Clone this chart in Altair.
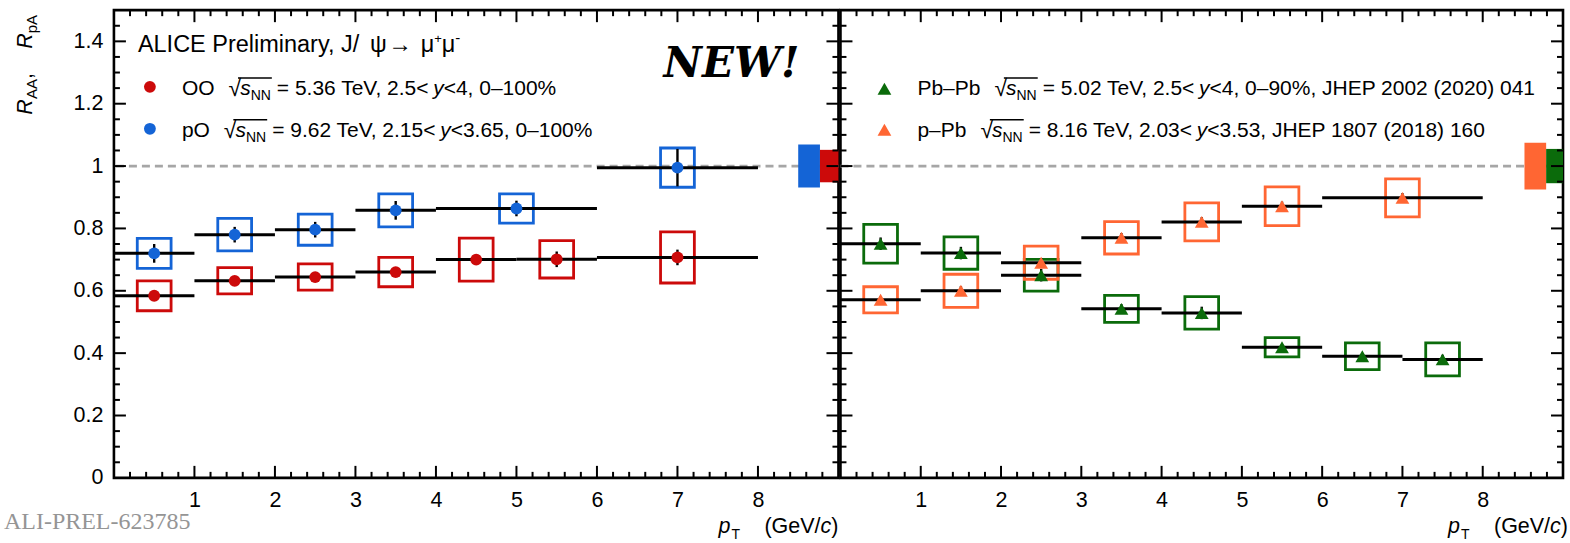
import altair as alt
import pandas as pd

# ---------------- data ----------------
# O-O, sqrt(sNN)=5.36 TeV
OO_x    = [0.5, 1.5, 2.5, 3.5, 4.5, 5.5, 7.0]
OO_lo   = [0, 1, 2, 3, 4, 5, 6]
OO_hi   = [1, 2, 3, 4, 5, 6, 8]
OO_y    = [0.584, 0.632, 0.644, 0.660, 0.700, 0.701, 0.707]
OO_stat = [0.015, 0.012, 0.012, 0.015, 0.012, 0.025, 0.025]
OO_syst = [0.048, 0.042, 0.042, 0.047, 0.069, 0.060, 0.082]

# p-O, sqrt(sNN)=9.62 TeV
pO_x    = [0.5, 1.5, 2.5, 3.5, 5.0, 7.0]
pO_lo   = [0, 1, 2, 3, 4, 6]
pO_hi   = [1, 2, 3, 4, 6, 8]
pO_y    = [0.720, 0.780, 0.796, 0.858, 0.864, 0.995]
pO_stat = [0.030, 0.025, 0.025, 0.030, 0.025, 0.060]
pO_syst = [0.048, 0.052, 0.050, 0.053, 0.047, 0.063]

# Pb-Pb, sqrt(sNN)=5.02 TeV
PbPb_x    = [0.5, 1.5, 2.5, 3.5, 4.5, 5.5, 6.5, 7.5]
PbPb_lo   = [0, 1, 2, 3, 4, 5, 6, 7]
PbPb_hi   = [1, 2, 3, 4, 5, 6, 7, 8]
PbPb_y    = [0.751, 0.721, 0.650, 0.542, 0.529, 0.419, 0.390, 0.380]
PbPb_stat = [0.020, 0.020, 0.020, 0.015, 0.020, 0.010, 0.010, 0.015]
PbPb_syst = [0.062, 0.052, 0.051, 0.043, 0.052, 0.031, 0.043, 0.053]

# p-Pb, sqrt(sNN)=8.16 TeV
pPb_x    = [0.5, 1.5, 2.5, 3.5, 4.5, 5.5, 7.0]
pPb_lo   = [0, 1, 2, 3, 4, 5, 6]
pPb_hi   = [1, 2, 3, 4, 5, 6, 8]
pPb_y    = [0.571, 0.600, 0.690, 0.770, 0.821, 0.871, 0.898]
pPb_stat = [0.012, 0.015, 0.015, 0.015, 0.015, 0.015, 0.015]
pPb_syst = [0.042, 0.053, 0.053, 0.052, 0.061, 0.062, 0.061]

# global (correlated) uncertainties drawn at R=1: [x_from, x_to, half-height]
glob_pO   = [8.50, 8.77, 0.069]
glob_OO   = [8.77, 9.00, 0.052]
glob_pPb  = [8.52, 8.79, 0.075]
glob_PbPb = [8.79, 9.00, 0.055]

x_tick_labels = [1, 2, 3, 4, 5, 6, 7, 8]
y_tick_labels = [0, 0.2, 0.4, 0.6, 0.8, 1.0, 1.2, 1.4]

# ---------------- styling ----------------
FONT = "Liberation Sans, Arial, DejaVu Sans"
C_RED, C_BLUE = "#cc0a0a", "#1464d6"
C_GREEN, C_ORANGE = "#0b6b0b", "#ff6633"
H = 468
WL, WR = 725, 723
BOXW = 0.21
XD, YD = [0, 9], [0, 1.5]
LFS = 21  # legend font size

AW = {' ': 278, '!': 278, '%': 889, '(': 333, ')': 333, ',': 278, '-': 333, '.': 278,
      '/': 278, '<': 584, '=': 584, '>': 584, '–': 556, '+': 584,
      'A': 667, 'C': 722, 'E': 667, 'G': 778, 'H': 722, 'I': 278, 'J': 500, 'L': 556,
      'N': 722, 'O': 778, 'P': 667, 'T': 611, 'V': 667,
      'a': 556, 'b': 556, 'c': 500, 'e': 556, 'i': 222, 'l': 222, 'm': 833, 'n': 556,
      'p': 556, 'r': 333, 's': 500, 'y': 500, 'ψ': 686, 'μ': 576, '→': 1000, '√': 549}


def tw(s, size):
    return sum(AW.get(c, 556) for c in s) * size / 1000.0


def px2x(px, W):
    return px / W * 9.0


def py2y(py):
    return 1.5 - py / H * 1.5


def series_df(x, lo, hi, y, stat, syst, col):
    return pd.DataFrame(dict(
        x=x, lo=lo, hi=hi, y=y,
        ylo=[a - b for a, b in zip(y, stat)], yhi=[a + b for a, b in zip(y, stat)],
        blo=[a - BOXW for a in x], bhi=[a + BOXW for a in x],
        slo=[a - b for a, b in zip(y, syst)], shi=[a + b for a, b in zip(y, syst)],
        col=[col] * len(x)))


def glob_df(items):
    return pd.DataFrame([dict(x=g[0], x2=g[1], y=1 - g[2], y2=1 + g[2], col=c) for g, c in items])


def ticks_df(W):
    rows = []
    Lx, Ly = 12, 12
    mx = [i * 0.2 for i in range(1, 45)]
    for v in mx:
        major = abs(v - round(v)) < 1e-6
        L = Lx if major else Lx / 2
        d = L / H * 1.5
        rows.append(dict(x=v, x2=v, y=0, y2=d))
        rows.append(dict(x=v, x2=v, y=1.5, y2=1.5 - d))
    for j in range(1, 30):
        v = j * 0.05
        major = j % 4 == 0
        L = Ly if major else Ly / 2
        d = L / W * 9
        rows.append(dict(x=0, x2=d, y=v, y2=v))
        rows.append(dict(x=9, x2=9 - d, y=v, y2=v))
    return pd.DataFrame(rows)


class TextBuilder:
    def __init__(self, W):
        self.W = W
        self.rows = []
        self.rules = []

    def add(self, px, py, text, size, style='n', angle=0, col='black'):
        self.rows.append(dict(x=px2x(px, self.W), y=py2y(py), text=text, size=size,
                              angle=angle, style=style, col=col))

    def line(self, x0, base, segs):
        x = x0
        for s in segs:
            if s[0] == 'gap':
                x += s[1]
                continue
            style, t, size = s[0], s[1], s[2]
            dy = s[3] if len(s) > 3 else 0
            self.add(x, base + dy, t, size, style)
            x += tw(t, size)
        return x

    def legend(self, x0, base, name, parts, fs=LFS):
        x = self.line(x0, base, [('n', name, fs), ('gap', 14)])
        self.add(x, base + 1, '√', fs + 2)
        xr = x + tw('√', fs + 2) * 0.75
        x = x + tw('√', fs + 2) - 1
        x = self.line(x, base, [('i', 's', fs), ('n', 'NN', 14, 5)])
        self.rules.append(dict(x=px2x(xr, self.W), x2=px2x(x + 1, self.W), y=py2y(base - 17)))
        self.line(x + 6, base, parts)

    def pt_title(self, right):
        fs = 21.5
        wr = tw('(GeV/', fs) + tw('c', fs) + tw(')', fs)
        x = right - wr
        base = 522.7
        self.add(x - 46, base, 'p', fs, 'i')
        self.add(x - 33, base + 6, 'T', 14)
        self.line(x, base, [('n', '(GeV/', fs), ('i', 'c', fs), ('n', ')', fs)])


def text_layers(tb):
    df = pd.DataFrame(tb.rows)
    xs = alt.Scale(domain=XD, nice=False, zero=False)
    ys = alt.Scale(domain=YD, nice=False, zero=False)
    out = []
    for style, kw in [('n', {}), ('i', {'fontStyle': 'italic'})]:
        sub = df[df['style'] == style]
        if len(sub) == 0:
            continue
        out.append(alt.Chart(sub).mark_text(font=FONT, align='left', baseline='alphabetic', **kw).encode(
            x=alt.X('x:Q', scale=xs), y=alt.Y('y:Q', scale=ys),
            text='text:N', size=alt.Size('size:Q', scale=None),
            angle=alt.Angle('angle:Q', scale=None), color=alt.Color('col:N', scale=None)))
    if tb.rules:
        out.append(alt.Chart(pd.DataFrame(tb.rules)).mark_rule(color='black', strokeWidth=1.5).encode(
            x='x:Q', x2='x2:Q', y='y:Q'))
    return out


def panel(W, series, globs, tb, extra, show_y):
    xs = alt.Scale(domain=XD, nice=False, zero=False)
    ys = alt.Scale(domain=YD, nice=False, zero=False)
    xaxis = alt.Axis(values=x_tick_labels, format='d', labelPadding=12, ticks=False, tickSize=0,
                     domain=False, grid=False, title=None, labelFontSize=21.5, labelFont=FONT,
                     labelColor='black', labelFlush=False)
    if show_y:
        yaxis = alt.Axis(values=y_tick_labels, format='~g', labelPadding=11, ticks=False, tickSize=0,
                         domain=False, grid=False, title=None, labelFontSize=21.5, labelFont=FONT,
                         labelColor='black', labelFlush=False)
    else:
        yaxis = None

    def X(f):
        return alt.X(f, type='quantitative', scale=xs, axis=xaxis)

    def Y(f):
        return alt.Y(f, type='quantitative', scale=ys, axis=yaxis)

    layers = []
    layers.append(alt.Chart(pd.DataFrame({'y': [1.0]})).mark_rule(
        color='#a6a6a6', strokeDash=[8, 5], strokeWidth=2.8).encode(y=Y('y')))
    layers.append(alt.Chart(glob_df(globs)).mark_rect().encode(
        x=X('x'), x2='x2:Q', y=Y('y'), y2='y2:Q', color=alt.Color('col:N', scale=None)))
    for df, shape, size in series:
        layers.append(alt.Chart(df).mark_rect(fillOpacity=0, strokeWidth=2.8).encode(
            x=X('blo'), x2='bhi:Q', y=Y('slo'), y2='shi:Q', stroke=alt.Stroke('col:N', scale=None)))
    for df, shape, size in series:
        layers.append(alt.Chart(df).mark_rule(color='black', strokeWidth=3).encode(
            x=X('lo'), x2='hi:Q', y=Y('y')))
    for df, shape, size in series:
        layers.append(alt.Chart(df).mark_rule(color='black', strokeWidth=2.4).encode(
            x=X('x'), y=Y('ylo'), y2='yhi:Q'))
        layers.append(alt.Chart(df).mark_point(shape=shape, filled=True, size=size, opacity=1).encode(
            x=X('x'), y=Y('y'), color=alt.Color('col:N', scale=None)))
    layers.append(alt.Chart(ticks_df(W)).mark_rule(color='black', strokeWidth=2).encode(
        x=X('x'), x2='x2:Q', y=Y('y'), y2='y2:Q'))
    layers += extra
    layers += text_layers(tb)
    return alt.layer(*layers).properties(width=W, height=H)


# ---------------- left panel ----------------
oo = series_df(OO_x, OO_lo, OO_hi, OO_y, OO_stat, OO_syst, C_RED)
po = series_df(pO_x, pO_lo, pO_hi, pO_y, pO_stat, pO_syst, C_BLUE)
tl = TextBuilder(WL)
tl.line(24, 42.2, [('n', 'ALICE Preliminary, J/', 23.5), ('gap', 9), ('n', 'ψ', 23.5), ('gap', 2),
                   ('n', '→', 23.5), ('gap', 9), ('n', 'μ', 23.5), ('n', '+', 13, -9),
                   ('n', 'μ', 23.5), ('n', '-', 15, -9)])
tl.legend(68, 85, 'OO', [('n', '= 5.36 TeV, 2.5<', LFS), ('i', 'y', LFS), ('n', '<4, 0–100%', LFS)])
tl.legend(68, 126.7, 'pO', [('n', '= 9.62 TeV, 2.15<', LFS), ('i', 'y', LFS), ('n', '<3.65, 0–100%', LFS)])
tl.pt_title(WL)
# y-axis title, rotated
for py, t, size, st, dx in [(104.7, 'R', 21.5, 'i', 0), (89.0, 'AA', 15, 'n', 5), (69.0, ',', 21.5, 'n', 0),
                            (38.7, 'R', 21.5, 'i', 0), (23.2, 'pA', 15, 'n', 5)]:
    tl.add(-82 + dx, py, t, size, st, angle=270)

leg_left = pd.DataFrame([dict(x=px2x(36, WL), y=py2y(76.7), col=C_RED),
                         dict(x=px2x(36, WL), y=py2y(118.7), col=C_BLUE)])
xs_ = alt.Scale(domain=XD, nice=False, zero=False)
ys_ = alt.Scale(domain=YD, nice=False, zero=False)
extra_left = [
    alt.Chart(leg_left).mark_point(shape='circle', filled=True, size=140, opacity=1).encode(
        x=alt.X('x:Q', scale=xs_), y=alt.Y('y:Q', scale=ys_), color=alt.Color('col:N', scale=None)),
    alt.Chart(pd.DataFrame([dict(x=px2x(618, WL), y=py2y(66.7), t='NEW!')])).mark_text(
        font='DejaVu Serif', fontStyle='italic', fontWeight='bold', fontSize=42, align='center',
        baseline='alphabetic', color='black').encode(
        x=alt.X('x:Q', scale=xs_), y=alt.Y('y:Q', scale=ys_), text='t:N'),
    alt.Chart(pd.DataFrame([dict(x=px2x(-110, WL), y=py2y(518.7), t='ALI-PREL-623785')])).mark_text(
        font='Liberation Serif', fontSize=24, align='left', baseline='alphabetic', color='#959595').encode(
        x=alt.X('x:Q', scale=xs_), y=alt.Y('y:Q', scale=ys_), text='t:N'),
    # invisible anchor fixing the page origin
    alt.Chart(pd.DataFrame([dict(x=px2x(-111.5, WL), x2=px2x(-111, WL), y=py2y(-7.8))])).mark_rule(
        color='white', strokeWidth=1).encode(
        x=alt.X('x:Q', scale=xs_), x2='x2:Q', y=alt.Y('y:Q', scale=ys_)),
]
left = panel(WL, [(oo, 'circle', 140), (po, 'circle', 140)],
             [(glob_pO, C_BLUE), (glob_OO, C_RED)], tl, extra_left, True)

# ---------------- right panel ----------------
pbpb = series_df(PbPb_x, PbPb_lo, PbPb_hi, PbPb_y, PbPb_stat, PbPb_syst, C_GREEN)
ppb = series_df(pPb_x, pPb_lo, pPb_hi, pPb_y, pPb_stat, pPb_syst, C_ORANGE)
tr = TextBuilder(WR)
tr.legend(77, 85, 'Pb–Pb', [('n', '= 5.02 TeV, 2.5<', LFS), ('i', 'y', LFS),
                             ('n', '<4, 0–90%, JHEP 2002 (2020) 041', LFS)])
tr.legend(77, 126.7, 'p–Pb', [('n', '= 8.16 TeV, 2.03<', LFS), ('i', 'y', LFS),
                               ('n', '<3.53, JHEP 1807 (2018) 160', LFS)])
tr.pt_title(WR + 5)
leg_right = pd.DataFrame([dict(x=px2x(44, WR), y=py2y(78.7), col=C_GREEN),
                          dict(x=px2x(44, WR), y=py2y(119.7), col=C_ORANGE)])
extra_right = [
    alt.Chart(leg_right).mark_point(shape='triangle-up', filled=True, size=190, opacity=1).encode(
        x=alt.X('x:Q', scale=xs_), y=alt.Y('y:Q', scale=ys_), color=alt.Color('col:N', scale=None)),
]
right = panel(WR, [(pbpb, 'triangle-up', 190), (ppb, 'triangle-up', 190)],
              [(glob_pPb, C_ORANGE), (glob_PbPb, C_GREEN)], tr, extra_right, False)

chart = alt.hconcat(left, right, spacing=2, bounds='flush', padding=0, background='white').configure_view(
    stroke='black', strokeWidth=2.6)

chart.save("out.html", embed_options={"renderer": "svg", "actions": False})
